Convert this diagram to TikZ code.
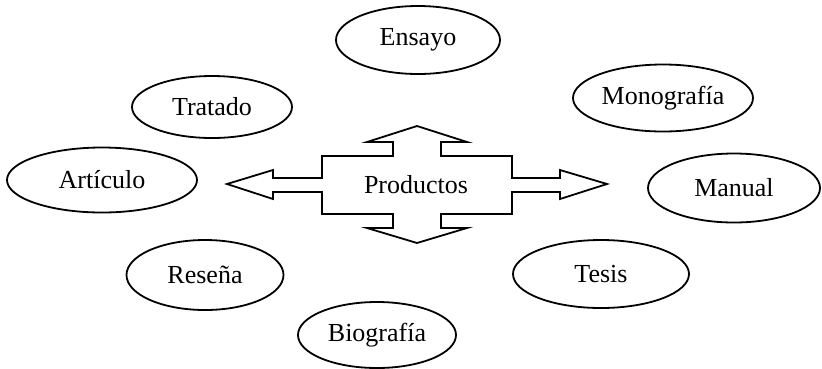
\documentclass[tikz,border=0pt]{standalone}
\usepackage{fontspec}
\setmainfont{Liberation Serif}
\usetikzlibrary{shapes.geometric}
\tikzset{lbl/.style={font=\fontsize{26}{30}\selectfont}}
\begin{document}
\begin{tikzpicture}[x=1pt,y=-1pt,
  oval/.style={draw,ellipse,line width=1.8pt,inner sep=0pt,lbl},
  bigshape/.style={draw,line width=1.8pt,line join=miter}]
\useasboundingbox (0,0) rectangle (822,368);
\node[oval,minimum width=164,minimum height=68] (ensayo) at (418,40) {Ensayo};
\node[oval,minimum width=160,minimum height=62] (tratado) at (212,107) {Tratado};
\node[oval,minimum width=190,minimum height=65] (articulo) at (102,180) {Artículo};
\node[oval,minimum width=180,minimum height=67] (monografia) at (663,98) {Monografía};
\node[oval,minimum width=172,minimum height=69] (manual) at (734,188) {Manual};
\node[oval,minimum width=176,minimum height=68] (tesis) at (601,274) {Tesis};
\node[oval,minimum width=157,minimum height=70] (resena) at (205,275) {Reseña};
\node[oval,minimum width=158,minimum height=66] (biografia) at (377,335) {Biografía};
\draw[bigshape] (227,184) -- (273,170) -- (273,178) -- (322,178) -- (322,156) -- (393,156)
  -- (393,142) -- (367,142) -- (417,126) -- (467,142) -- (441,142) -- (441,156)
  -- (512,156) -- (512,178) -- (560,178) -- (560,170) -- (607,184) -- (560,199)
  -- (560,192) -- (512,192) -- (512,214) -- (441,214) -- (441,228) -- (467,228)
  -- (417,243) -- (367,228) -- (393,228) -- (393,214) -- (322,214) -- (322,192)
  -- (273,192) -- (273,199) -- cycle;
\node[lbl] (productos) at (416,185) {Productos};
\end{tikzpicture}
\end{document}
